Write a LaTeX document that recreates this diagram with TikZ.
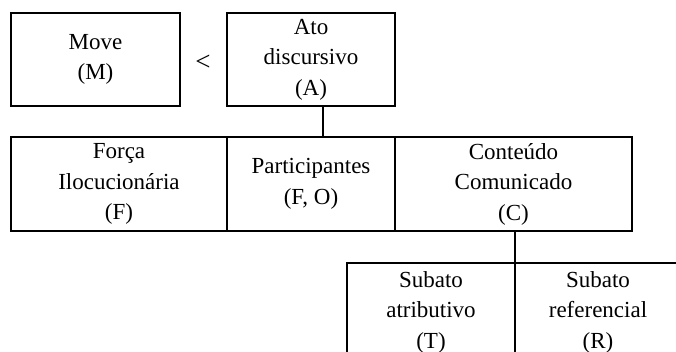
\documentclass[tikz,border=0pt]{standalone}
\usepackage{fontspec}
\setmainfont{Liberation Serif}
\newcommand\diagfs{\fontsize{23}{30.5}\selectfont}
\begin{document}
\begin{tikzpicture}[x=1pt,y=-1pt,
  box/.style={draw, line width=1.8pt, inner sep=0pt, outer sep=0pt, align=center, font=\diagfs},
  txt/.style={inner sep=0pt, align=center, font=\diagfs},
  link/.style={line width=1.8pt}]
\useasboundingbox (0,0) rectangle (676,351);
\clip (0,0) rectangle (676,351);
% top row
\node[box, minimum width=169pt, minimum height=93pt] (M) at (95.5,59.5) {Move\\(M)};
\node[txt, font=\fontsize{27}{30}\selectfont] (lt) at (203,63) {<};
\node[box, minimum width=168pt, minimum height=93pt] (A) at (311,59.5) {Ato\\discursivo\\(A)};
% middle row
\node[box, minimum width=216pt, minimum height=94pt] (F) at (119,184) {Força\\Ilocucionária\\(F)};
\node[box, minimum width=168pt, minimum height=94pt] (P) at (311,184) {Participantes\\(F, O)};
\node[box, minimum width=237pt, minimum height=94pt] (C) at (513.5,184) {Conteúdo\\Comunicado\\(C)};
% bottom row
\node[box, minimum width=168pt, minimum height=130pt, anchor=north] (T) at (431,263) {};
\node[box, minimum width=190pt, minimum height=130pt, anchor=north west] (R) at (515,263) {};
\node[txt] (Tt) at (431,312) {Subato\\atributivo\\(T)};
\node[txt] (Rt) at (598,312) {Subato\\referencial\\(R)};
% connectors
\coordinate (a1) at ([xshift=12pt]A.south);
\draw[link] (a1) -- (a1 |- P.north);
\draw[link] (C.south -| T.north east) -- (T.north east);
\end{tikzpicture}
\end{document}
